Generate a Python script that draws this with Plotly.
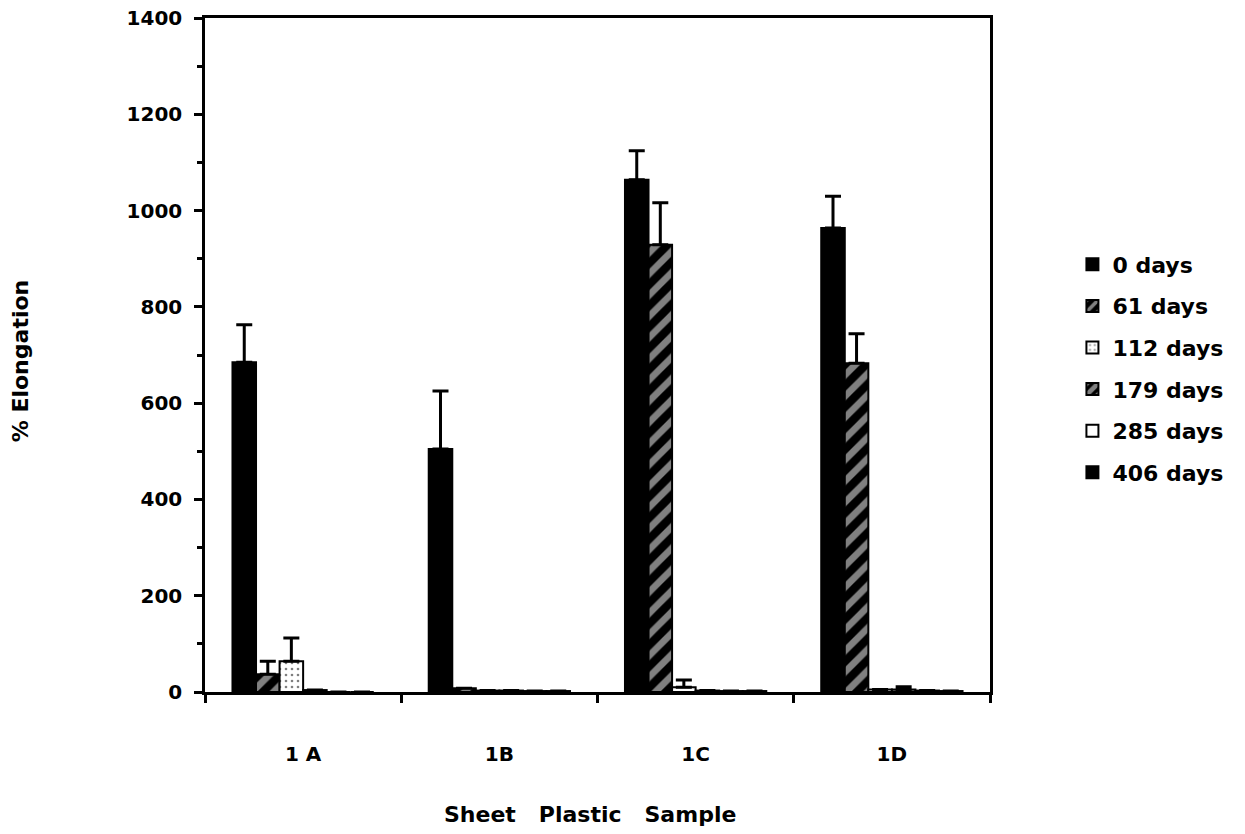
import plotly.graph_objects as go

samples = ["1 A", "1B", "1C", "1D"]
series_names = ["0 days", "61 days", "112 days", "179 days", "285 days", "406 days"]
v_0 = [685, 505, 1064, 964]
e_0 = [78, 120, 60, 66]
v_61 = [37, 8, 929, 683]
e_61 = [27, 0, 87, 61]
v_112 = [64, 3, 10, 5]
e_112 = [48, 0, 15, 0]
v_179 = [4, 3, 3, 5]
e_179 = [0, 0, 0, 6]
v_285 = [0, 2, 2, 3]
e_285 = [0, 0, 0, 0]
v_406 = [0, 2, 2, 2]
e_406 = [0, 0, 0, 0]

values = [v_0, v_61, v_112, v_179, v_285, v_406]
errors = [e_0, e_61, e_112, e_179, e_285, e_406]

styles = [
    dict(color="black"),
    dict(color="black", pattern=dict(shape="/", bgcolor="black", fgcolor="white", size=15, solidity=0.45)),
    dict(color="white", pattern=dict(shape=".", bgcolor="white", fgcolor="black", size=6, solidity=0.15)),
    dict(color="black", pattern=dict(shape="/", bgcolor="black", fgcolor="white", size=15, solidity=0.6)),
    dict(color="white"),
    dict(color="black"),
]

FONT = "DejaVu Sans"

fig = go.Figure()
for name, v, e, st in zip(series_names, values, errors, styles):
    marker = dict(color=st["color"], line=dict(color="black", width=2))
    if "pattern" in st:
        marker["pattern"] = st["pattern"]
    fig.add_trace(go.Bar(
        x=samples, y=v, name=name, marker=marker,
        legendgroup=name,
        error_y=dict(type="data", array=e, arrayminus=[0] * len(e), symmetric=False,
                     color="black", thickness=3, width=8, visible=True),
    ))

fig.update_layout(
    width=1245, height=834,
    margin=dict(l=205, r=255, t=18, b=142),
    paper_bgcolor="white", plot_bgcolor="white",
    barmode="group", bargap=0.28, bargroupgap=0,
    font=dict(family=FONT, size=18, color="black", weight="bold"),
    showlegend=True,
    legend=dict(x=1.105, xanchor="left", y=0.48, yanchor="middle",
                font=dict(family=FONT, size=22, color="black", weight="bold"),
                tracegroupgap=10, bgcolor="rgba(0,0,0,0)"),
    annotations=[
        dict(text="% Elongation", xref="paper", yref="paper", x=-0.235, y=0.49,
             xanchor="center", yanchor="middle", textangle=-90, showarrow=False,
             font=dict(family=FONT, size=22, color="black", weight="bold")),
        dict(text="Sheet   Plastic   Sample", xref="paper", yref="paper", x=0.49, y=-0.182,
             xanchor="center", yanchor="middle", showarrow=False,
             font=dict(family=FONT, size=22, color="black", weight="bold")),
    ],
)

fig.update_yaxes(
    range=[0, 1400], tickmode="linear", tick0=0, dtick=200,
    ticks="outside", ticklen=8, tickwidth=2.5, tickcolor="black",
    minor=dict(ticks="outside", ticklen=5, tickwidth=2.5, tickcolor="black", dtick=100),
    showline=True, linecolor="black", linewidth=2.5, mirror=True,
    showgrid=False, zeroline=False, automargin=False,
    tickfont=dict(family=FONT, size=20, color="black", weight="bold"),
    ticklabelstandoff=8,
)
fig.update_xaxes(
    tickson="boundaries", ticks="outside", ticklen=8, tickwidth=2.5, tickcolor="black",
    showline=True, linecolor="black", linewidth=2.5, mirror=True,
    showgrid=False, automargin=False,
    tickfont=dict(family=FONT, size=20, color="black", weight="bold"),
    ticklabelstandoff=42,
)

fig.write_html("out.html")
